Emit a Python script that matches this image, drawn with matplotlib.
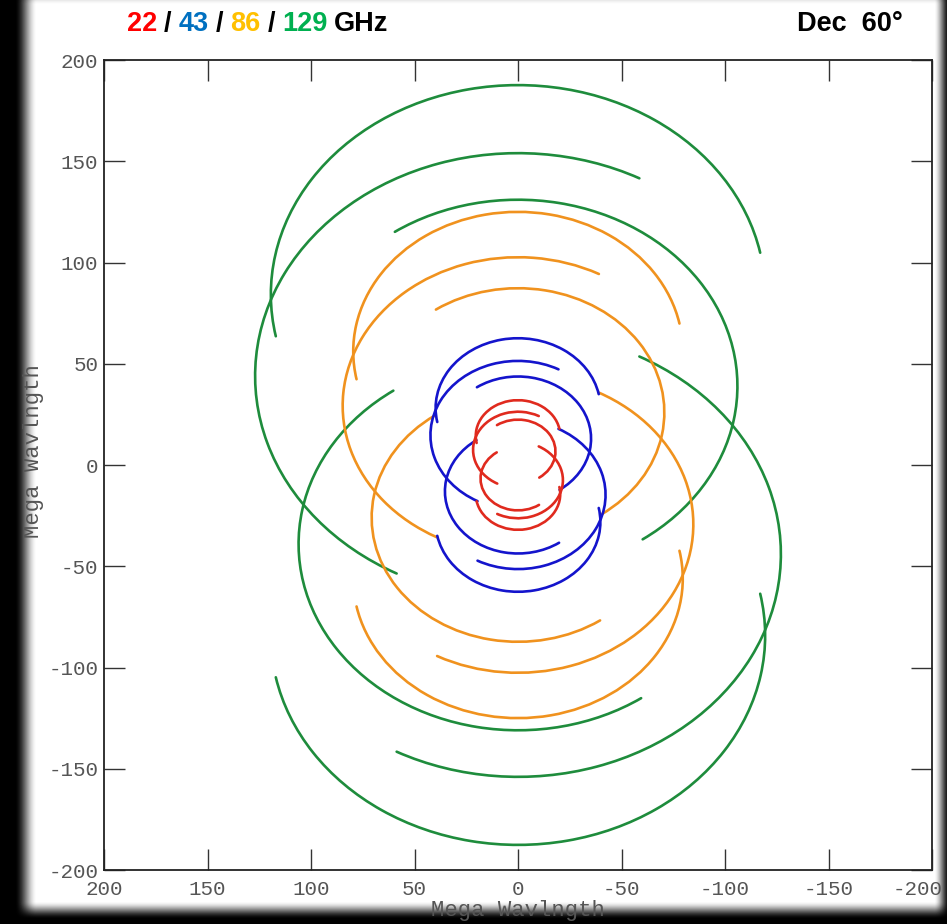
import numpy as np
import matplotlib
matplotlib.use("Agg")
import matplotlib.pyplot as plt
from matplotlib.patches import Arc
from matplotlib.offsetbox import TextArea, HPacker, AnchoredOffsetbox
from matplotlib.transforms import ScaledTranslation

# ---------------- data (Mega wavelengths) ----------------
freq_labels = ["22", "43", "86", "129"]
track_colors = ["#e02a1e", "#1414cc", "#f0921e", "#1e8c3c"]
title_colors = ["#ff0000", "#0070c0", "#ffc000", "#00b050"]

# three baselines per frequency: semi-axis along u, semi-axis along v, v of ellipse centre
semi_u_22 = [20.4, 21.7, 18.1]
semi_v_22 = [17.6, 18.8, 15.7]
centre_v_22 = [14.4, 7.5, 6.7]

semi_u_43 = [39.8, 42.3, 35.3]
semi_v_43 = [34.5, 36.7, 30.7]
centre_v_43 = [28.1, 14.7, 13.0]

semi_u_86 = [79.6, 84.7, 70.7]
semi_v_86 = [68.9, 73.3, 61.3]
centre_v_86 = [56.1, 29.3, 26.0]

semi_u_129 = [119.4, 127.0, 106.0]
semi_v_129 = [103.4, 110.0, 92.0]
centre_v_129 = [84.2, 44.0, 39.0]

# arc extent (polar angle about the ellipse centre, degrees, counter-clockwise)
arc_start = [-10.0, -59.0, 52.0]
arc_end = [170.0, 121.0, 231.5]

tick_values = [-200, -150, -100, -50, 0, 50, 100, 150, 200]

semi_u = [semi_u_22, semi_u_43, semi_u_86, semi_u_129]
semi_v = [semi_v_22, semi_v_43, semi_v_86, semi_v_129]
centre_v = [centre_v_22, centre_v_43, centre_v_86, centre_v_129]

# ---------------- figure ----------------
W, H = 947, 924
fig = plt.figure(figsize=(W / 100, H / 100), dpi=100)
fig.patch.set_facecolor("black")

# soft white panel on black
bg = fig.add_axes([0, 0, 1, 1], zorder=-10)
yy, xx = np.mgrid[0:H, 0:W] + 0.5


def ramp(d, w):
    t = np.clip(d / w, 0, 1)
    return t * t * (3 - 2 * t)


glow = ramp(xx - 15, 22) * ramp(950 - xx, 16) * ramp(yy + 20, 25) * ramp(919 - yy, 18)
bg.imshow(glow, cmap="gray", vmin=0, vmax=1, extent=(0, W, H, 0), aspect="auto",
          interpolation="bilinear")
bg.set_xlim(0, W)
bg.set_ylim(H, 0)
bg.axis("off")

ax = fig.add_axes([104 / W, 1 - 870 / H, (932 - 104) / W, (870 - 60) / H])
ax.set_facecolor("white")

for fi in reversed(range(len(freq_labels))):
    col = track_colors[fi]
    for bi in range(3):
        for sign in (1, -1):
            off = 0.0 if sign == 1 else 180.0
            arc = Arc((0.0, sign * centre_v[fi][bi]),
                      2 * semi_u[fi][bi], 2 * semi_v[fi][bi],
                      theta1=arc_start[bi] + off, theta2=arc_end[bi] + off,
                      color=col, lw=1.9, capstyle="round")
            ax.add_patch(arc)

ax.set_xlim(200, -200)
ax.set_ylim(-200, 200)
ax.set_xticks(tick_values)
ax.set_yticks(tick_values)
ax.set_xticklabels([str(v) for v in tick_values])
ax.set_yticklabels([str(v) for v in tick_values])

mono = "Liberation Mono"
gray = "#555555"
ax.tick_params(axis="both", direction="in", length=15, width=1.0, color="#333333",
               top=True, right=True, labelsize=15, labelcolor=gray)
ax.tick_params(axis="x", pad=7)
ax.tick_params(axis="y", pad=4)
for lab in ax.get_xticklabels() + ax.get_yticklabels():
    lab.set_family(mono)
for s in ax.spines.values():
    s.set_linewidth(1.3)
    s.set_color("#222222")

# the "-200" x tick label sits at the picture's right edge; nudge it inward a little
edge_label = ax.get_xticklabels()[0]
edge_label.set_transform(edge_label.get_transform()
                         + ScaledTranslation(-14 / 100, 0, fig.dpi_scale_trans))

ax.set_xlabel("Mega Wavlngth", fontsize=16, family=mono, color=gray, labelpad=1)
ax.set_ylabel("Mega Wavlngth", fontsize=16, family=mono, color=gray)
ax.yaxis.set_label_coords(-0.072, 0.517)

# ---------------- header ----------------
hdr = dict(fontsize=19.5, fontweight="bold", family="Liberation Sans")
parts = []
for i, f in enumerate(freq_labels):
    parts.append(TextArea(f, textprops=dict(color=title_colors[i], **hdr)))
    if i < len(freq_labels) - 1:
        parts.append(TextArea("/", textprops=dict(color="black", **hdr)))
parts.append(TextArea("GHz", textprops=dict(color="black", **hdr)))
pack = HPacker(children=parts, align="baseline", pad=0, sep=5)
box = AnchoredOffsetbox(loc="center left", child=pack, pad=0, borderpad=0, frameon=False,
                        bbox_to_anchor=(127 / W, 1 - 24 / H), bbox_transform=fig.transFigure)
fig.add_artist(box)

fig.text(797 / W, 1 - 24 / H, "Dec  60°", ha="left", va="center", color="black", **hdr)

fig.savefig("out.png", dpi=100, facecolor=fig.get_facecolor())
